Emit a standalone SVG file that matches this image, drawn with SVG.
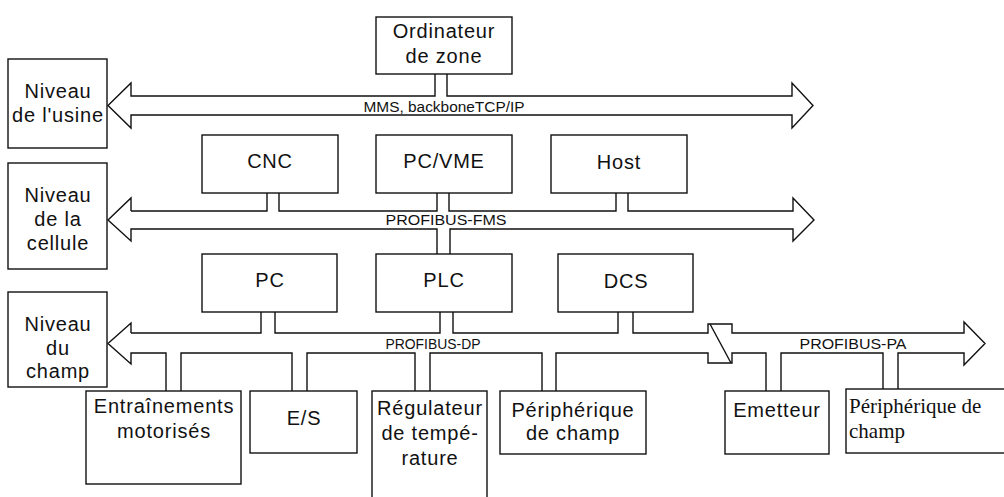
<svg xmlns="http://www.w3.org/2000/svg" width="1004" height="497" viewBox="0 0 1004 497">
<style>
.box{fill:#fff;stroke:#111;stroke-width:1.4}
.bus{fill:none;stroke:#111;stroke-width:1.4;stroke-linejoin:miter}
.t{font-family:"Liberation Sans",Arial,sans-serif;font-size:20px;letter-spacing:0.8px;fill:#111;text-anchor:middle}
.s{font-family:"Liberation Sans",Arial,sans-serif;font-size:14px;fill:#111;text-anchor:middle}
.r{font-family:"Liberation Serif","Times New Roman",serif;font-size:21px;fill:#111}
</style>
<rect width="1004" height="497" fill="#fff"/>
<g id="connectors">
<path class="bus" d="M435,74 L435,96 L131,96 L131,83 L108,105.5 L131,128 L131,115 L792,115 L792,128 L813,105.5 L792,83 L792,96 L447,96 L447,74"/>
<path class="bus" d="M131,211 L267,211 L267,193 M279,193 L279,211 L437,211 L437,193 M449,193 L449,211 L616,211 L616,193 M628,193 L628,211 L793,211 L793,198 L814,220 L793,241 L793,229 L450,229 L450,254 M437,254 L437,229 L131,229 L131,241 L108,220 L131,198 L131,211"/>
<path class="bus" d="M131,333 L261,333 L261,312 M275,312 L275,333 L440,333 L440,312 M453,312 L453,333 L618,333 L618,312 M633,312 L633,333 L708,333 L708,324 L732,324 L732,333 L964,333 L964,322 L985,343.5 L964,365 L964,353 L898,353 L898,389 M883,389 L883,353 L781,353 L781,391 M766,391 L766,353 L732,353 L732,363 L708,363 L708,353 L556,353 L556,391 M542,391 L542,353 L430,353 L430,391 M415,391 L415,353 L307,353 L307,391 M292,391 L292,353 L181,353 L181,391 M166,391 L166,353 L131,353 L131,364 L108,343.5 L131,323 L131,333"/>
<line class="bus" x1="710" y1="324" x2="731" y2="363"/>
<text class="s" x="444" y="112" textLength="161" lengthAdjust="spacingAndGlyphs">MMS, backboneTCP/IP</text>
<text class="s" x="446" y="225" textLength="121" lengthAdjust="spacingAndGlyphs">PROFIBUS-FMS</text>
<text class="s" x="433" y="349" textLength="95" lengthAdjust="spacingAndGlyphs">PROFIBUS-DP</text>
<text class="s" x="853" y="349" textLength="107" lengthAdjust="spacingAndGlyphs">PROFIBUS-PA</text>
</g>
<g id="ordinateur"><rect class="box" x="376" y="17" width="136" height="57"/><text class="t" x="444" y="38">Ordinateur</text><text class="t" x="444" y="63">de zone</text></g>
<g id="niveau-usine"><rect class="box" x="8" y="59" width="99" height="89"/><text class="t" x="58" y="98">Niveau</text><text class="t" x="58" y="122">de l'usine</text></g>
<g id="niveau-cellule"><rect class="box" x="8" y="163" width="99" height="106"/><text class="t" x="58" y="202">Niveau</text><text class="t" x="58" y="226">de la</text><text class="t" x="58" y="250">cellule</text></g>
<g id="niveau-champ"><rect class="box" x="8" y="292" width="99" height="95"/><text class="t" x="58" y="331">Niveau</text><text class="t" x="58" y="355">du</text><text class="t" x="58" y="378">champ</text></g>
<g id="cnc"><rect class="box" x="202" y="135" width="136" height="58"/><text class="t" x="270" y="168">CNC</text></g>
<g id="pcvme"><rect class="box" x="376" y="135" width="136" height="58"/><text class="t" x="444" y="168">PC/VME</text></g>
<g id="host"><rect class="box" x="551" y="135" width="136" height="58"/><text class="t" x="619" y="169">Host</text></g>
<g id="pc"><rect class="box" x="202" y="254" width="135" height="58"/><text class="t" x="270" y="287">PC</text></g>
<g id="plc"><rect class="box" x="376" y="254" width="136" height="58"/><text class="t" x="444" y="287">PLC</text></g>
<g id="dcs"><rect class="box" x="558" y="254" width="135" height="58"/><text class="t" x="626" y="288">DCS</text></g>
<g id="entrainements"><rect class="box" x="86" y="391" width="155" height="93"/><text class="t" x="164" y="413">Entraînements</text><text class="t" x="164" y="438">motorisés</text></g>
<g id="es"><rect class="box" x="250" y="391" width="107" height="62"/><text class="t" x="304" y="425">E/S</text></g>
<g id="regulateur"><rect class="box" x="372" y="391" width="115" height="115"/><text class="t" x="430" y="415">Régulateur</text><text class="t" x="430" y="440">de tempé-</text><text class="t" x="430" y="465">rature</text></g>
<g id="peripherique"><rect class="box" x="500" y="391" width="146" height="63"/><text class="t" x="573" y="417">Périphérique</text><text class="t" x="573" y="440">de champ</text></g>
<g id="emetteur"><rect class="box" x="725" y="391" width="104" height="63"/><text class="t" x="777" y="417">Emetteur</text></g>
<g id="peripherique-pa"><rect class="box" x="846" y="389" width="170" height="64"/><text class="r" x="849" y="413">Périphérique de</text><text class="r" x="849" y="438">champ</text></g>
</svg>
